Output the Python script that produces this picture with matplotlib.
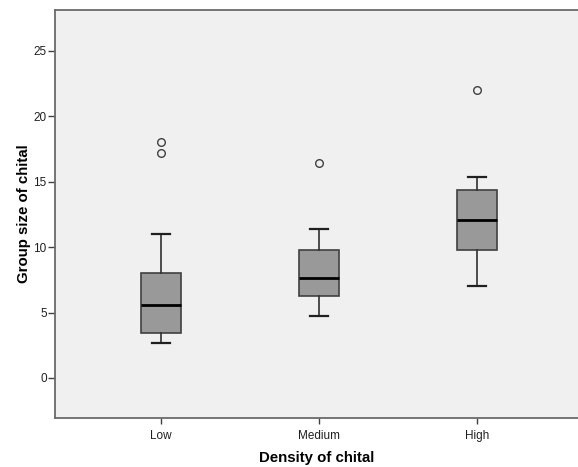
import matplotlib
matplotlib.use("Agg")
import matplotlib.pyplot as plt

plt.rcParams['font.family'] = ['Liberation Sans', 'DejaVu Sans']

categories = ["Low", "Medium", "High"]
whisker_low = [2.7, 4.7, 7.0]
q1 = [3.47, 6.3, 9.75]
median = [5.54, 7.63, 12.04]
q3 = [8.0, 9.8, 14.36]
whisker_high = [11.0, 11.4, 15.4]
outliers = [[17.2, 18.0], [16.43], [22.0]]

stats = []
for i, name in enumerate(categories):
    stats.append(dict(label=name, whislo=whisker_low[i], q1=q1[i], med=median[i],
                      q3=q3[i], whishi=whisker_high[i], fliers=outliers[i]))

fig = plt.figure(figsize=(5.78, 4.67), dpi=100)
ax = fig.add_axes([55 / 578, 1 - 417.7 / 467, 1 - 55 / 578, (417.7 - 10) / 467])
ax.set_facecolor('#f0f0f0')

ax.bxp(stats, positions=[1, 2, 3], widths=0.247, patch_artist=True,
       boxprops=dict(facecolor='#999999', edgecolor='#404040', linewidth=1.2),
       medianprops=dict(color='black', linewidth=2),
       whiskerprops=dict(color='#303030', linewidth=1.2),
       capprops=dict(color='#202020', linewidth=1.6),
       capwidths=0.12,
       flierprops=dict(marker='o', markerfacecolor='none', markeredgecolor='#404040',
                       markersize=5.5, markeredgewidth=1.0))

ax.set_xlim(1 - 106 / 158, 3 + 101 / 158)
ax.set_ylim(-3.04, 28.13)
ax.set_yticks([0, 5, 10, 15, 20, 25])
ax.set_xticks([1, 2, 3])
ax.set_xticklabels(categories)

for side in ['left', 'bottom', 'top']:
    ax.spines[side].set_color('#6a6a6a')
    ax.spines[side].set_linewidth(1.3)
ax.spines['right'].set_visible(False)

ax.tick_params(axis='both', colors='#404040', labelcolor='#202020', labelsize=8.5,
               width=1)
ax.tick_params(axis='y', length=5, pad=1)
ax.tick_params(axis='x', length=4.5, pad=4)

ax.set_xlabel("Density of chital", fontsize=10.8, fontweight='bold', labelpad=7)
ax.set_ylabel("Group size of chital", fontsize=10.8, fontweight='bold', labelpad=2)

fig.savefig("out.png", dpi=100, facecolor='white')
